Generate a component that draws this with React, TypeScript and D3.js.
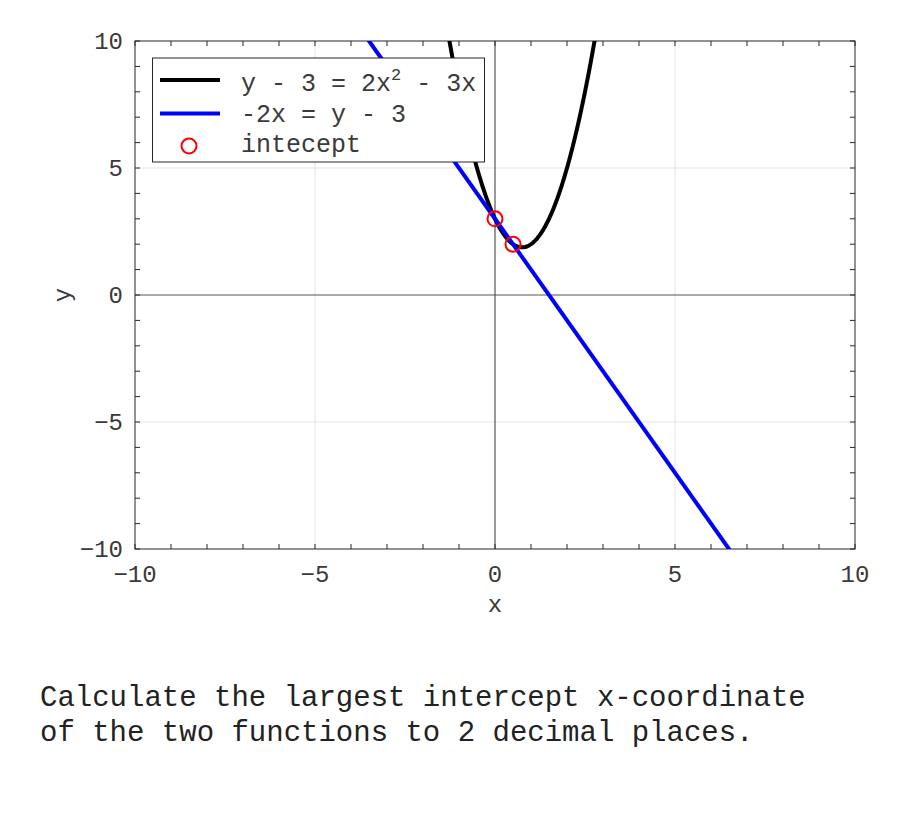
import React from "react";
import * as d3 from "d3";

// Data
const xDomain = [-10, 10];
const yDomain = [-10, 10];
const majorTicks = [-10, -5, 0, 5, 10];
const minorTicks = [-9, -8, -7, -6, -4, -3, -2, -1, 1, 2, 3, 4, 6, 7, 8, 9];
const quadCoeffs = [2, -3, 3]; // y = 2x^2 - 3x + 3
const lineCoeffs = [-2, 3]; // y = -2x + 3
const interceptX = [0, 0.5];
const interceptY = [3, 2];
const legendLabels = ["-2x = y - 3", "intecept"];
const titleLines = [
  "Calculate the largest intercept x-coordinate",
  "of the two functions to 2 decimal places.",
];

const W = 900;
const H = 825;
const M = { left: 135, right: 855, top: 41, bottom: 549 };
const FONT = "'Liberation Mono', 'Courier New', monospace";
const AX = "#262626";
const TXT = "#3a3a3a";

export default function App() {
  const x = d3.scaleLinear().domain(xDomain).range([M.left, M.right]);
  const y = d3.scaleLinear().domain(yDomain).range([M.bottom, M.top]);

  const samples = d3.range(-10, 10.0001, 0.02);
  const quad = samples.map((t) => [t, quadCoeffs[0] * t * t + quadCoeffs[1] * t + quadCoeffs[2]]);
  const lin = [xDomain[0], xDomain[1]].map((t) => [t, lineCoeffs[0] * t + lineCoeffs[1]]);
  const line = d3
    .line<number[]>()
    .x((d) => x(d[0]))
    .y((d) => y(d[1]));

  const tickLen = 5;

  return (
    <svg
      width={W}
      height={H}
      style={{ position: "absolute", left: 0, top: 0, background: "#fff" }}
    >
      <defs>
        <clipPath id="plot">
          <rect x={M.left} y={M.top} width={M.right - M.left} height={M.bottom - M.top} />
        </clipPath>
      </defs>
      <rect x={0} y={0} width={W} height={H} fill="#fff" />
      {/* grid */}
      {majorTicks
        .filter((t) => t !== 0 && Math.abs(t) !== 10)
        .map((t) => (
          <g key={"g" + t}>
            <line x1={x(t)} x2={x(t)} y1={M.top} y2={M.bottom} stroke="#e3e3e3" strokeWidth={1} />
            <line x1={M.left} x2={M.right} y1={y(t)} y2={y(t)} stroke="#e3e3e3" strokeWidth={1} />
          </g>
        ))}
      {/* zero axes */}
      <line x1={x(0)} x2={x(0)} y1={M.top} y2={M.bottom} stroke="#555" strokeWidth={1.2} />
      <line x1={M.left} x2={M.right} y1={y(0)} y2={y(0)} stroke="#555" strokeWidth={1.2} />
      {/* frame */}
      <rect
        x={M.left}
        y={M.top}
        width={M.right - M.left}
        height={M.bottom - M.top}
        fill="none"
        stroke={AX}
        strokeWidth={1}
      />
      {/* ticks */}
      {[...majorTicks, ...minorTicks].map((t) => (
        <g key={"t" + t} stroke={AX} strokeWidth={1}>
          <line x1={x(t)} x2={x(t)} y1={M.bottom} y2={M.bottom - tickLen} />
          <line x1={x(t)} x2={x(t)} y1={M.top} y2={M.top + tickLen} />
          <line x1={M.left} x2={M.left + tickLen} y1={y(t)} y2={y(t)} />
          <line x1={M.right} x2={M.right - tickLen} y1={y(t)} y2={y(t)} />
        </g>
      ))}
      {/* tick labels */}
      {majorTicks.map((t) => (
        <text
          key={"xl" + t}
          x={x(t)}
          y={582}
          textAnchor="middle"
          fontFamily={FONT}
          fontSize={24}
          fill={TXT}
        >
          {t < 0 ? "\u2212" + Math.abs(t) : t}
        </text>
      ))}
      {majorTicks.map((t) => (
        <text
          key={"yl" + t}
          x={123}
          y={y(t)}
          dy="0.35em"
          textAnchor="end"
          fontFamily={FONT}
          fontSize={24}
          fill={TXT}
        >
          {t < 0 ? "\u2212" + Math.abs(t) : t}
        </text>
      ))}
      <text x={x(0)} y={612} textAnchor="middle" fontFamily={FONT} fontSize={24} fill={TXT}>
        x
      </text>
      <text
        transform={`translate(70,${y(0)}) rotate(-90)`}
        textAnchor="middle"
        fontFamily={FONT}
        fontSize={24}
        fill={TXT}
      >
        y
      </text>
      {/* series */}
      <g clipPath="url(#plot)">
        <path d={line(quad) || ""} fill="none" stroke="#000" strokeWidth={4} />
        <path d={line(lin) || ""} fill="none" stroke="#0000ff" strokeWidth={4} />
        {interceptX.map((v, i) => (
          <circle
            key={"c" + i}
            cx={x(v)}
            cy={y(interceptY[i])}
            r={7.5}
            fill="none"
            stroke="#ff0000"
            strokeWidth={2}
          />
        ))}
      </g>
      {/* legend */}
      <rect x={152.5} y={58} width={332} height={104} fill="#fff" stroke={AX} strokeWidth={1} />
      <line x1={160} x2={220} y1={80} y2={80} stroke="#000" strokeWidth={4} />
      <line x1={160} x2={220} y1={113.5} y2={113.5} stroke="#0000ff" strokeWidth={4} />
      <circle cx={189} cy={146} r={7.5} fill="none" stroke="#ff0000" strokeWidth={2} />
      <text x={241} y={91} fontFamily={FONT} fontSize={25} fill={TXT} xmlSpace="preserve">
        <tspan>y - 3 = 2x</tspan>
        <tspan fontSize={17} dy={-11}>2</tspan>
        <tspan dy={11}> - 3x</tspan>
      </text>
      <text x={241} y={122} fontFamily={FONT} fontSize={25} fill={TXT} xmlSpace="preserve">
        {legendLabels[0]}
      </text>
      <text x={241} y={152} fontFamily={FONT} fontSize={25} fill={TXT} xmlSpace="preserve">
        {legendLabels[1]}
      </text>
      {/* title */}
      {titleLines.map((s, i) => (
        <text
          key={"tt" + i}
          x={40}
          y={706 + i * 35}
          fontFamily={FONT}
          fontSize={29}
          fill="#222"
          xmlSpace="preserve"
        >
          {s}
        </text>
      ))}
    </svg>
  );
}
